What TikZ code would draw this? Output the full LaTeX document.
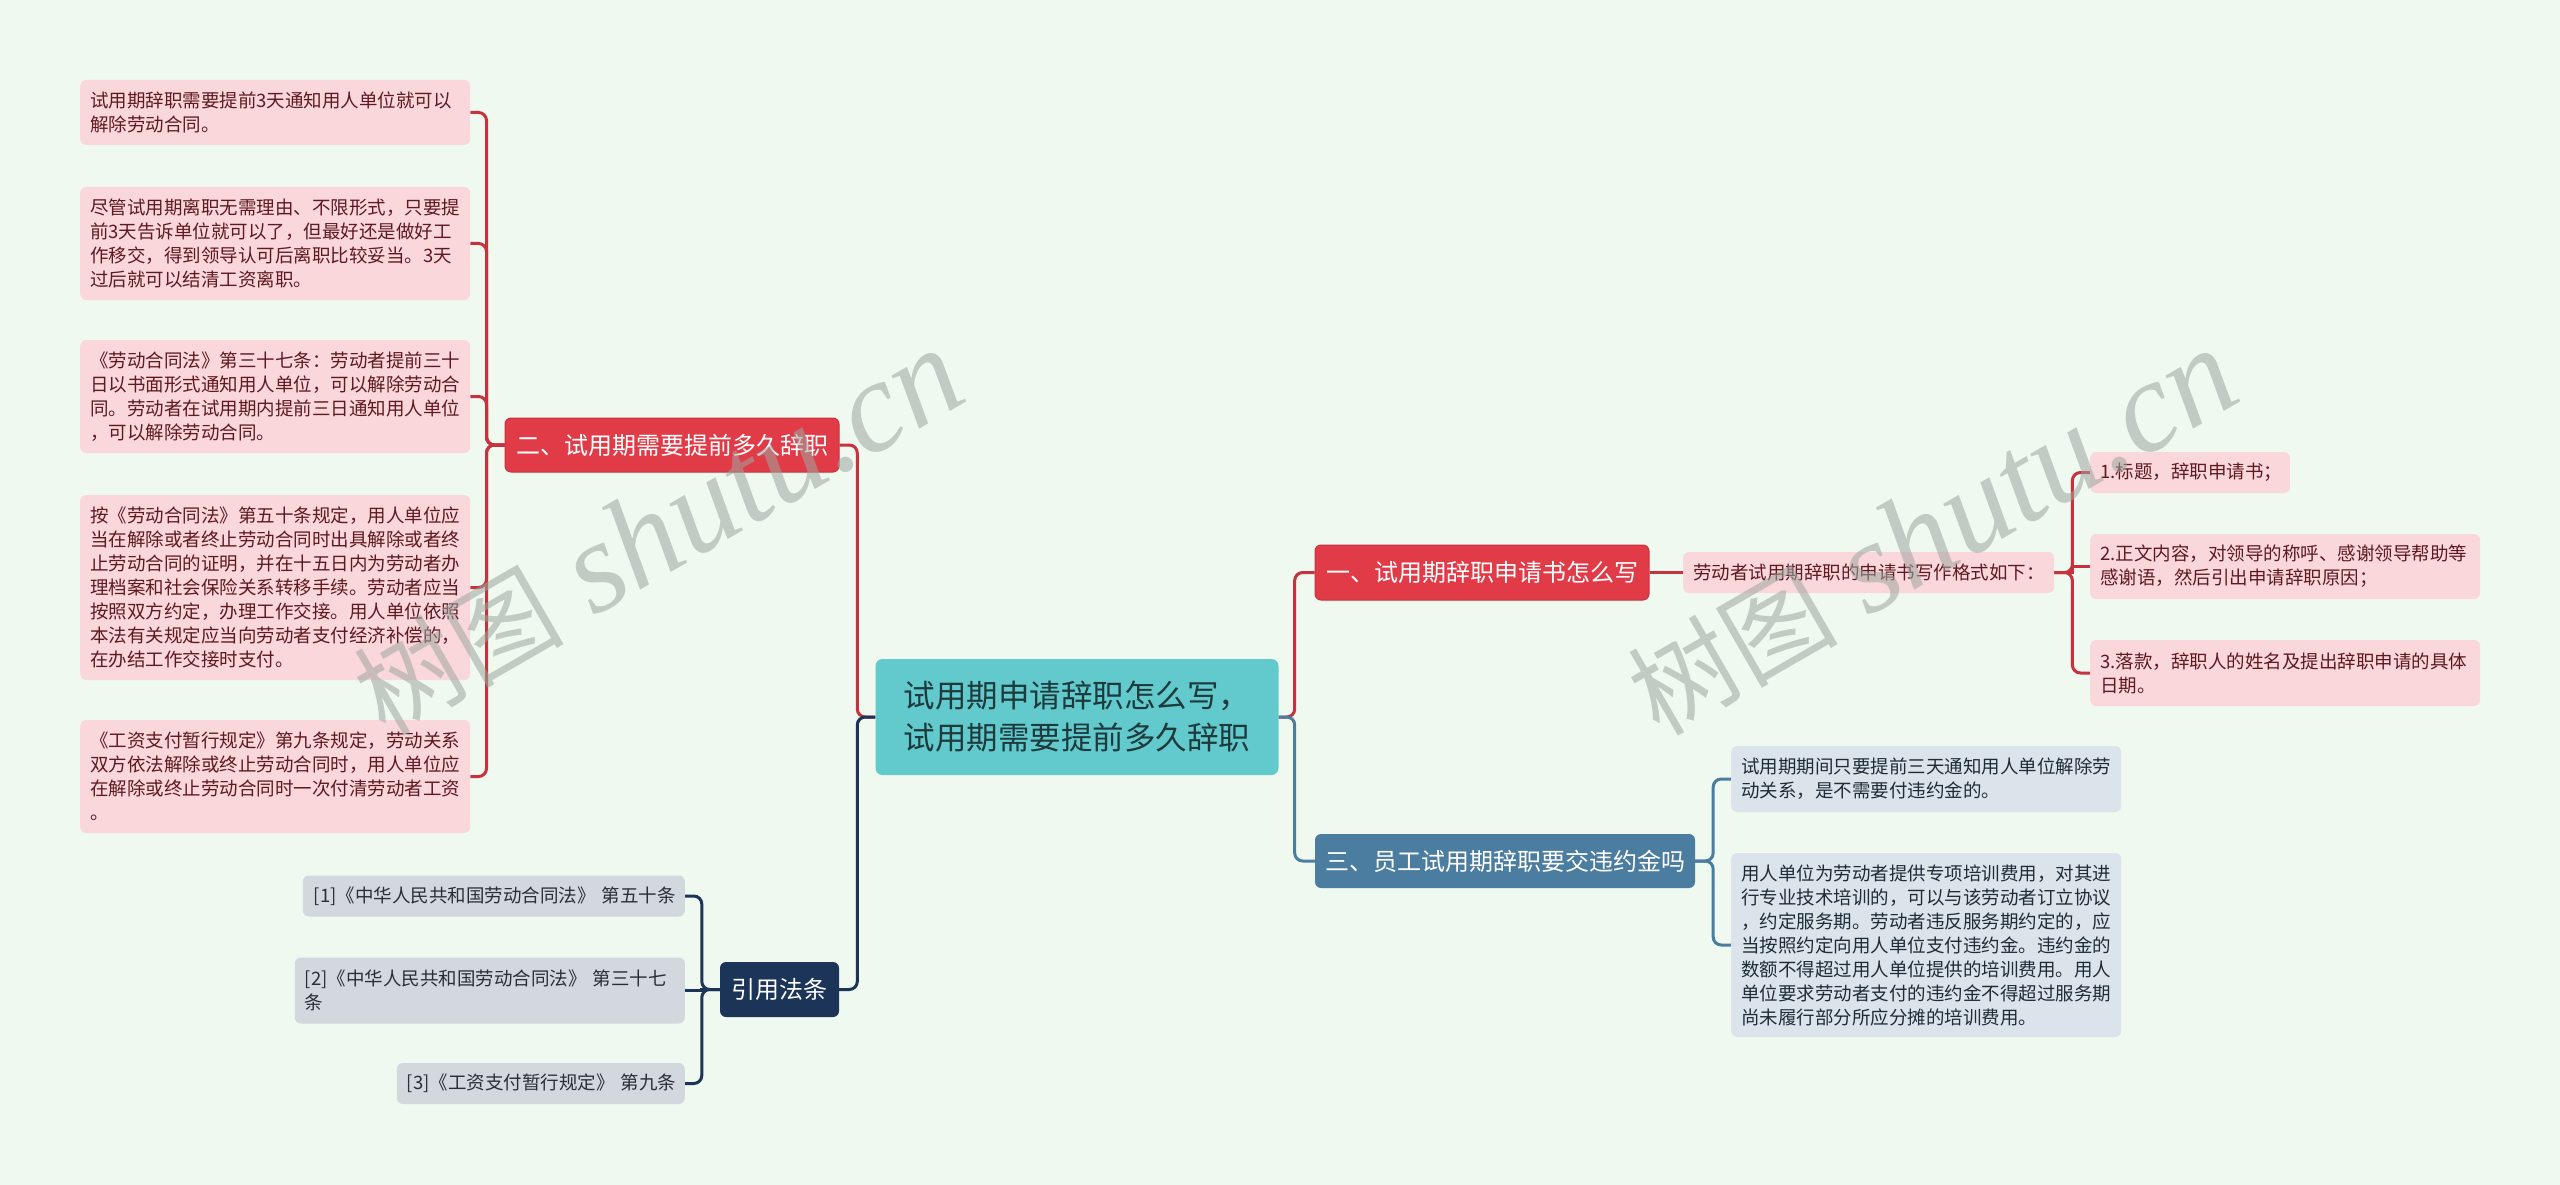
\documentclass[tikz,border=0pt]{standalone}
\usepackage{fontspec}
\setmainfont{Noto Sans CJK SC}
\newfontfamily\wmlatin{Liberation Serif}
\usetikzlibrary{backgrounds}
\definecolor{bgc}{HTML}{F0F9EF}
\definecolor{pinkf}{HTML}{F9D7DB}
\definecolor{pinkt}{HTML}{5E1A20}
\definecolor{redf}{HTML}{E23B48}
\definecolor{redl}{HTML}{C8313E}
\definecolor{tealf}{HTML}{62CACC}
\definecolor{tealt}{HTML}{1E3A3C}
\definecolor{bluef}{HTML}{4B7DA0}
\definecolor{bleaf}{HTML}{DCE4EB}
\definecolor{bleaft}{HTML}{1E2C38}
\definecolor{navyf}{HTML}{1B3457}
\definecolor{grayf}{HTML}{D3D8DF}
\definecolor{grayt}{HTML}{2A2F36}
\definecolor{wmc}{HTML}{9EA79F}
\tikzset{
  box/.style={rounded corners=6pt, inner xsep=10pt, inner ysep=0pt, align=left,
    font=\fontsize{18.5}{24}\selectfont},
  pinkleaf/.style={box, fill=pinkf, text=pinkt},
  blueleaf/.style={box, fill=bleaf, text=bleaft},
  grayleaf/.style={box, fill=grayf, text=grayt},
  hub/.style={rounded corners=6pt, align=center, inner sep=0pt,
    font=\fontsize{24}{30}\selectfont, text=white},
  conn/.style={line width=3pt, rounded corners=8pt},
  straightconn/.style={line width=3pt},
  wm/.style={rotate=30, text=wmc, opacity=0.55, inner sep=0pt}
}
\begin{document}
\begin{tikzpicture}[x=1pt,y=-1pt]
\useasboundingbox (0,0) rectangle (2560,1185);

% central
\node[rounded corners=7pt, fill=tealf, text=tealt, align=left, inner xsep=28.25pt, inner ysep=0pt,
  text width=346.5pt, minimum height=116pt, font=\fontsize{31.5}{42}\selectfont] (c) at (1077,717)
  {试用期申请辞职怎么写，\\试用期需要提前多久辞职};

% hub 二
\node[hub, fill=redf, draw=redl, line width=1pt, minimum width=334pt, minimum height=54pt] (h2) at (672,445) {二、试用期需要提前多久辞职};
\node[pinkleaf, anchor=west, text width=370pt, minimum height=65pt] (l1) at (80,112.5)
  {试用期辞职需要提前3天通知用人单位就可以\\解除劳动合同。};
\node[pinkleaf, anchor=west, text width=370pt, minimum height=113pt] (l2) at (80,243.5)
  {尽管试用期离职无需理由、不限形式，只要提\\前3天告诉单位就可以了，但最好还是做好工\\作移交，得到领导认可后离职比较妥当。3天\\过后就可以结清工资离职。};
\node[pinkleaf, anchor=west, text width=370pt, minimum height=113pt] (l3) at (80,396.5)
  {《劳动合同法》第三十七条：劳动者提前三十\\日以书面形式通知用人单位，可以解除劳动合\\同。劳动者在试用期内提前三日通知用人单位\\，可以解除劳动合同。};
\node[pinkleaf, anchor=west, text width=370pt, minimum height=185pt] (l4) at (80,587.5)
  {按《劳动合同法》第五十条规定，用人单位应\\当在解除或者终止劳动合同时出具解除或者终\\止劳动合同的证明，并在十五日内为劳动者办\\理档案和社会保险关系转移手续。劳动者应当\\按照双方约定，办理工作交接。用人单位依照\\本法有关规定应当向劳动者支付经济补偿的，\\在办结工作交接时支付。};
\node[pinkleaf, anchor=west, text width=370pt, minimum height=113pt] (l5) at (80,776.5)
  {《工资支付暂行规定》第九条规定，劳动关系\\双方依法解除或终止劳动合同时，用人单位应\\在解除或终止劳动合同时一次付清劳动者工资\\。};

% hub 一
\node[hub, fill=redf, draw=redl, line width=1pt, minimum width=334pt, minimum height=55pt] (h1) at (1482,572.5) {一、试用期辞职申请书怎么写};
\node[pinkleaf, anchor=west, text width=351pt, minimum height=41pt] (s) at (1683,572.5)
  {劳动者试用期辞职的申请书写作格式如下：};
\node[pinkleaf, anchor=west, text width=180pt, minimum height=41pt] (r1) at (2090,472.5)
  {1.标题，辞职申请书；};
\node[pinkleaf, anchor=west, text width=370pt, minimum height=65pt] (r2) at (2090,566.5)
  {2.正文内容，对领导的称呼、感谢领导帮助等\\感谢语，然后引出申请辞职原因；};
\node[pinkleaf, anchor=west, text width=370pt, minimum height=66pt] (r3) at (2090,673)
  {3.落款，辞职人的姓名及提出辞职申请的具体\\日期。};

% hub 三
\node[hub, fill=bluef, minimum width=380pt, minimum height=54pt] (h3) at (1505,861) {三、员工试用期辞职要交违约金吗};
\node[blueleaf, anchor=west, text width=370pt, minimum height=66pt] (b1) at (1731,779)
  {试用期期间只要提前三天通知用人单位解除劳\\动关系，是不需要付违约金的。};
\node[blueleaf, anchor=west, text width=370pt, minimum height=184pt] (b2) at (1731,945)
  {用人单位为劳动者提供专项培训费用，对其进\\行专业技术培训的，可以与该劳动者订立协议\\，约定服务期。劳动者违反服务期约定的，应\\当按照约定向用人单位支付违约金。违约金的\\数额不得超过用人单位提供的培训费用。用人\\单位要求劳动者支付的违约金不得超过服务期\\尚未履行部分所应分摊的培训费用。};

% hub 引用法条
\node[hub, fill=navyf, minimum width=119pt, minimum height=55pt] (h4) at (779.5,989.5) {引用法条};
\node[grayleaf, anchor=east, inner xsep=11pt, text width=360pt, minimum height=41pt] (g1) at (685,896)
  {\mbox{[1]《中华人民共和国劳动合同法》 第五十条}};
\node[grayleaf, anchor=east, text width=370pt, minimum height=66pt] (g2) at (685,990.5)
  {\mbox{[2]《中华人民共和国劳动合同法》 第三十七}\\条};
\node[grayleaf, anchor=east, text width=268pt, minimum height=41pt] (g3) at (685,1083.5)
  {\mbox{[3]《工资支付暂行规定》 第九条}};

\begin{scope}[on background layer]
\fill[bgc] (0,0) rectangle (2560,1185);
% central connectors
\draw[conn, redl] (c.west) -- ++(-18,0) |- (h2.east);
\draw[conn, navyf] (c.west) -- ++(-18,0) |- (h4.east);
\draw[conn, redl] (c.east) -- ++(16,0) |- (h1.west);
\draw[conn, bluef] (c.east) -- ++(16,0) |- (h3.west);
% hub 二
\foreach \n in {l1,l2,l3,l4,l5}
  \draw[conn, redl] (h2.west) -- ++(-18,0) |- (\n.east);
% hub 一
\draw[straightconn, redl] (h1.east) -- (s.west);
\draw[conn, redl] (s.east) -- ++(18,0) |- (r1.west);
\draw[straightconn, redl] (s.east) -- ++(18,0) |- (r2.west);
\draw[conn, redl] (s.east) -- ++(18,0) |- (r3.west);
% hub 三
\draw[conn, bluef] (h3.east) -- ++(18,0) |- (b1.west);
\draw[conn, bluef] (h3.east) -- ++(18,0) |- (b2.west);
% hub 引用法条
\draw[conn, navyf] (h4.west) -- ++(-18,0) |- (g1.east);
\draw[straightconn, navyf] (h4.west) -- ++(-18,0) |- (g2.east);
\draw[conn, navyf] (h4.west) -- ++(-18,0) |- (g3.east);
\end{scope}

% watermarks
\node[wm] (wm1) at (658,533) {\fontsize{105}{110}\selectfont 树图\hspace{30pt}{\wmlatin\itshape\fontsize{130}{130}\selectfont shutu.cn}};
\node[wm] (wm2) at (1932,533) {\fontsize{105}{110}\selectfont 树图\hspace{30pt}{\wmlatin\itshape\fontsize{130}{130}\selectfont shutu.cn}};
\end{tikzpicture}
\end{document}
